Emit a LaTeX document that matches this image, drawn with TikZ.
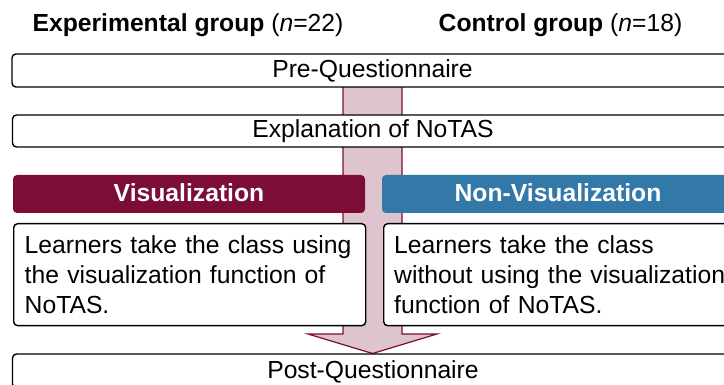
\documentclass[tikz,border=0pt]{standalone}
\usepackage{fontspec}
\setmainfont{Liberation Sans}
\definecolor{maroon}{RGB}{123,13,54}
\definecolor{steel}{RGB}{50,121,170}
\definecolor{pinkfill}{RGB}{221,196,206}
\tikzset{
  every node/.style={font=\fontsize{24.7}{30}\selectfont},
  outline/.style={draw=black, line width=1.4pt, fill=white, rounded corners=4pt},
  onebox/.style={outline, inner sep=0pt, text height=18pt, text depth=4pt},
  header/.style={rounded corners=4pt, inner sep=0pt, text=white, text height=18pt, text depth=3pt, font=\fontsize{24.7}{30}\selectfont\bfseries},
  bodybox/.style={outline, anchor=north west, text width=330pt, align=left, minimum height=102pt, inner ysep=0pt},
  titletext/.style={inner sep=0pt, text height=18pt, text depth=4pt},
  blockarrow/.style={draw=maroon, line width=1.2pt, fill=pinkfill, line join=miter}
}
\begin{document}
\begin{tikzpicture}[x=1pt, y=-1pt]
\useasboundingbox (0,0) rectangle (724,385);
\clip (0,0) rectangle (724,385);

% titles
\node[titletext] (t1) at (188,25) {\textbf{Experimental group} (\textit{n}=22)};
\node[titletext] (t2) at (560.5,25) {\textbf{Control group} (\textit{n}=18)};

% big block arrow behind the boxes
\draw[blockarrow] (343,70) -- (343,334) -- (308,334) -- (372.5,353.5) -- (437,334) -- (402,334) -- (402,70) -- cycle;

% single-line boxes
\node[onebox, minimum width=721pt, minimum height=33pt] (pre) at (372.5,70.5) {Pre-Questionnaire};
\node[onebox, minimum width=721pt, minimum height=32pt] (expl) at (373,131) {Explanation of NoTAS};

% headers
\node[header, fill=maroon, minimum width=352pt, minimum height=38pt] (vis) at (189,194) {Visualization};
\node[header, fill=steel, minimum width=352pt, minimum height=38pt] (nonvis) at (558,194) {Non-Visualization};

% description boxes
\node[bodybox, inner xsep=11pt] (vtext) at (13,223) {\mbox{Learners take the class using}\\\mbox{the visualization function of}\\\mbox{NoTAS.}};
\node[bodybox, inner xsep=10.5pt] (ntext) at (383,223) {\mbox{Learners take the class}\\\mbox{without using the visualization}\\\mbox{function of NoTAS.}};

% post questionnaire
\node[onebox, minimum width=721pt, minimum height=34pt] (post) at (373,371) {Post-Questionnaire};
\end{tikzpicture}
\end{document}
